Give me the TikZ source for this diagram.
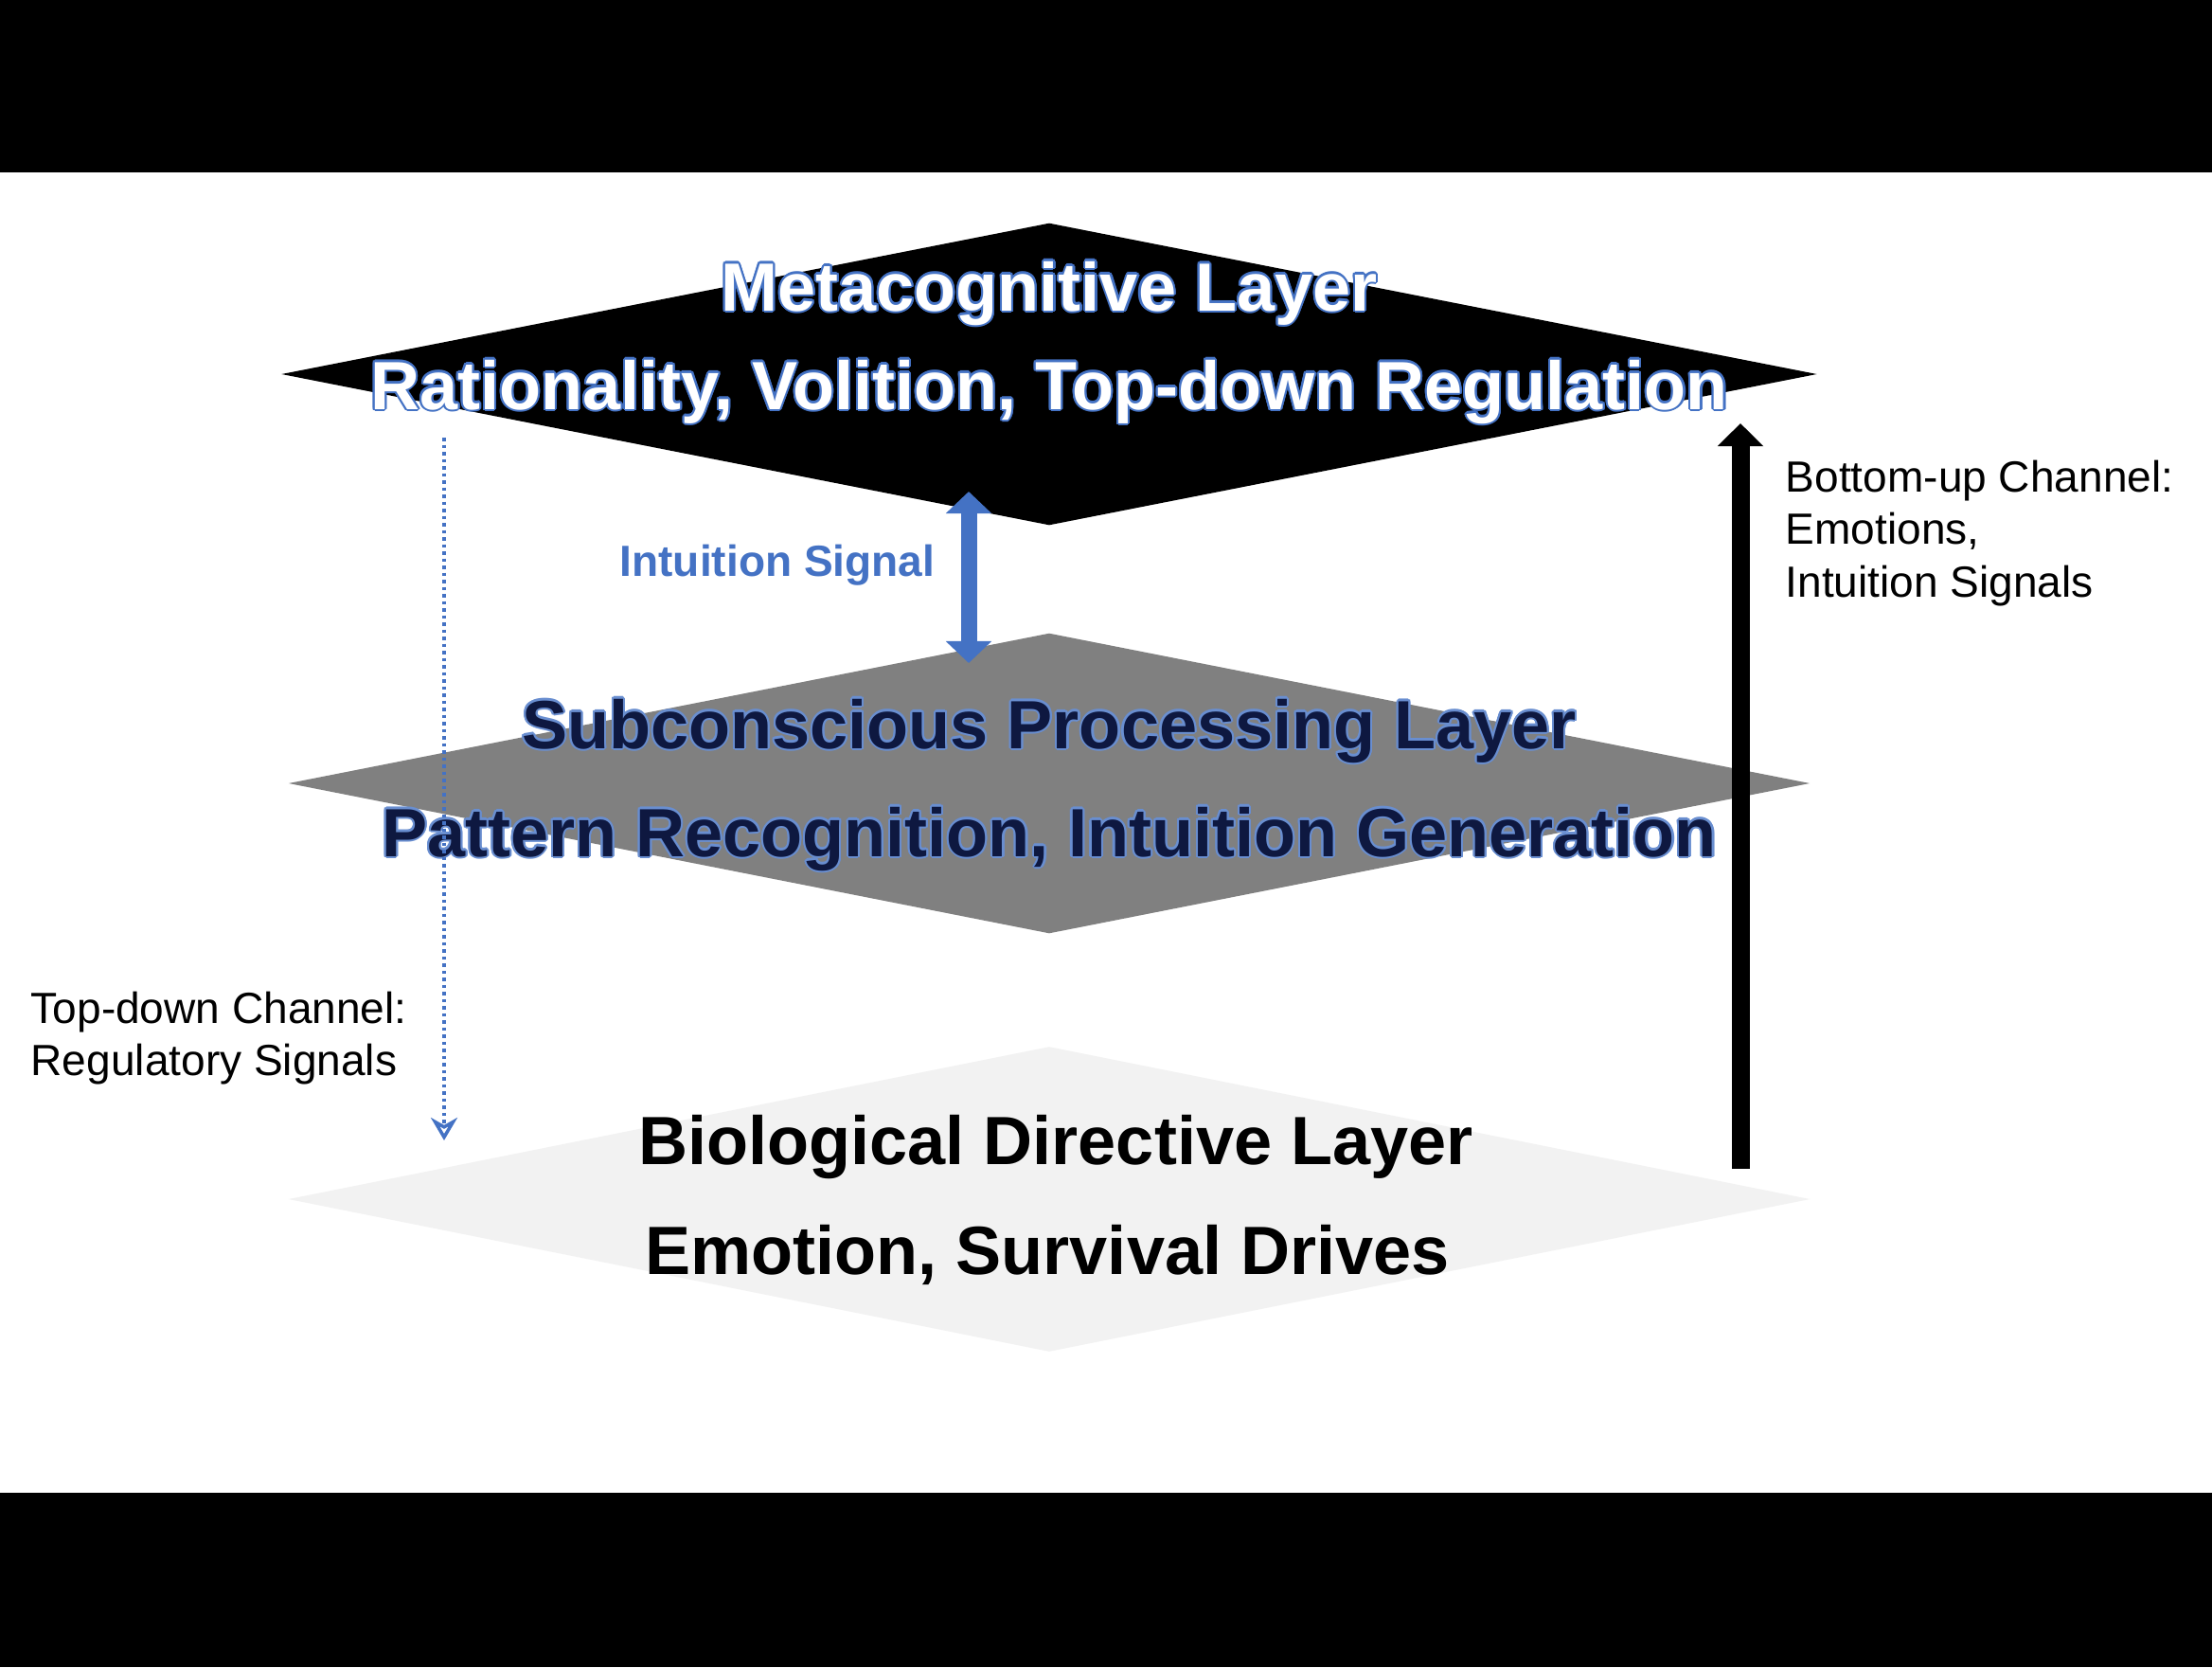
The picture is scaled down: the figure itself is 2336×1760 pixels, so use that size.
\documentclass[tikz,border=0pt]{standalone}
\usepackage{fontspec}
\setmainfont{Liberation Sans}
\usepackage{contour}
\usetikzlibrary{shapes.geometric,arrows.meta,positioning}
\definecolor{accentblue}{RGB}{68,114,196}
\definecolor{midgray}{RGB}{128,128,128}
\definecolor{palegray}{RGB}{242,242,242}
\definecolor{navytext}{RGB}{14,24,64}
\contourlength{0.6pt}

\begin{document}
\begin{tikzpicture}[
    x=0.01cm, y=-0.01cm,
    layer/.style={diamond,draw=none,inner sep=0pt,
                  minimum width=16.06cm,minimum height=3.2cm},
    layertext/.style={font=\fontsize{20.5pt}{24pt}\selectfont\bfseries,
                      inner sep=0pt,anchor=base},
    sidenote/.style={font=\fontsize{13.1pt}{15.8pt}\selectfont,
                     align=left,inner sep=0pt,anchor=north west},
    sigarr/.style={{Triangle[width=0.47cm,length=0.23cm]}-{Triangle[width=0.47cm,length=0.23cm]},
                   line width=0.17cm,color=accentblue},
    uparr/.style={-{Triangle[width=0.47cm,length=0.24cm]},line width=0.19cm,color=black},
    downarr/.style={-{Stealth[open,width=0.28cm,length=0.24cm]},line width=0.035cm,
                    dash pattern=on 0.035cm off 0.04cm,color=accentblue}
  ]
  \useasboundingbox (0,0) rectangle (2336,1760);
  \fill[white] (0,0) rectangle (2336,1760);
  \fill[black] (0,0) rectangle (2336,182);
  \fill[black] (0,1576) rectangle (2336,1760);

  % the three layers
  \node[layer,fill=black,minimum width=16.21cm,minimum height=3.19cm] (meta) at (1108,395) {};
  \node[layer,fill=midgray,minimum height=3.17cm] (sub) at (1108,827) {};
  \node[layer,fill=palegray,minimum height=3.22cm] (bio) at (1108,1266) {};

  \node[layertext,text=white] (metaName) at (1108,328) {\contour{accentblue}{Metacognitive Layer}};
  \node[layertext,text=white] (metaRole) at (1108,432) {\contour{accentblue}{Rationality, Volition, Top-down Regulation}};
  \node[layertext,text=navytext] (subName) at (1108,790) {\contour{accentblue!80}{Subconscious Processing Layer}};
  \node[layertext,text=navytext] (subRole) at (1108,904) {\contour{accentblue!80}{Pattern Recognition, Intuition Generation}};
  \node[layertext] (bioName) at (1115,1229) {Biological Directive Layer};
  \node[layertext] (bioRole) at (1106,1345) {Emotion, Survival Drives};

  % channels
  \coordinate (sigTop) at (1023,519);
  \coordinate (sigBot) at (1023,700);
  \draw[sigarr] (sigTop) -- (sigBot);
  \node[font=\fontsize{13.1pt}{15pt}\selectfont\bfseries,text=accentblue,
        inner sep=0pt,anchor=base east] (sigLabel) at (988,608) {Intuition Signal};

  \coordinate (downTop) at (469,462);
  \coordinate (downEnd) at (469,1204);
  \draw[downarr] (downTop) -- (downEnd);
  \node[sidenote] (downLabel) at (32,1046) {Top-down Channel:\\Regulatory Signals};

  \coordinate (upBase) at (1838,1234);
  \coordinate (upTip) at (1838,447);
  \draw[uparr] (upBase) -- (upTip);
  \node[sidenote] (upLabel) at (1885,485) {Bottom-up Channel:\\Emotions,\\Intuition Signals};
\end{tikzpicture}
\end{document}
